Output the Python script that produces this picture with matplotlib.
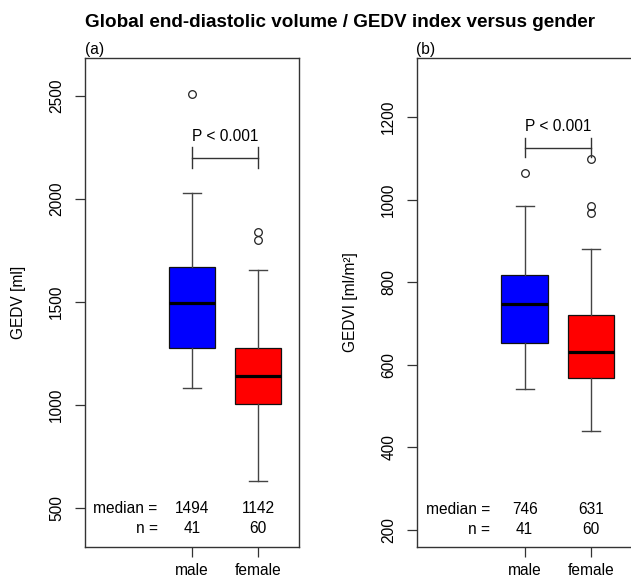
import matplotlib
matplotlib.use("Agg")
import matplotlib.pyplot as plt

plt.rcParams['font.family'] = ['Liberation Sans', 'DejaVu Sans']

W, H = 631, 582
DPI = 100

groups = ["male", "female"]
colors = ["#0000FF", "#FF0000"]

# Panel (a): GEDV [ml]
gedv_med = [1494, 1142]
gedv_q1 = [1279, 1007]
gedv_q3 = [1668, 1275]
gedv_lo = [1084, 630]
gedv_hi = [2031, 1655]
gedv_fliers = [[2508], [1840, 1800]]
gedv_n = [41, 60]
gedv_ticks = [500, 1000, 1500, 2000, 2500]

# Panel (b): GEDVI [ml/m²]
gedvi_med = [746, 631]
gedvi_q1 = [652, 568]
gedvi_q3 = [816, 721]
gedvi_lo = [542, 438]
gedvi_hi = [984, 881]
gedvi_fliers = [[1065], [1098, 984, 968]]
gedvi_n = [41, 60]
gedvi_ticks = [200, 400, 600, 800, 1000, 1200]

fig = plt.figure(figsize=(W / DPI, H / DPI), dpi=DPI)

def px_axes(left, right, top, bottom):
    return fig.add_axes([left / W, 1 - bottom / H, (right - left) / W, (bottom - top) / H])

axA = px_axes(85, 299, 58, 547)
axB = px_axes(417.3, 632, 58, 547)

LC = "#333333"
FS = 11.2

def draw(ax, med, q1, q3, lo, hi, fliers, n, ticks, ylim, ptext_y, pbar_y, ptick_h,
         row_med, row_n, ylabel, ylabel_x, tag, tag_x):
    stats = []
    for i in range(len(groups)):
        stats.append(dict(med=med[i], q1=q1[i], q3=q3[i], whislo=lo[i],
                          whishi=hi[i], fliers=fliers[i], label=groups[i]))
    bp = ax.bxp(stats, positions=[1, 2], widths=0.7, capwidths=0.27,
                patch_artist=True, manage_ticks=False,
                boxprops=dict(edgecolor="#111111", linewidth=0.9),
                medianprops=dict(color="black", linewidth=2.3, solid_capstyle="butt"),
                whiskerprops=dict(color="#444444", linewidth=1.0),
                capprops=dict(color="#444444", linewidth=1.0),
                flierprops=dict(marker="o", markerfacecolor="none",
                                markeredgecolor="#222222", markersize=5.5,
                                markeredgewidth=0.9))
    for patch, c in zip(bp["boxes"], colors):
        patch.set_facecolor(c)
    ax.set_xlim(-0.62, 2.62)
    ax.set_ylim(*ylim)
    ax.set_xticks([1, 2])
    ax.set_xticklabels(groups, fontsize=FS)
    ax.set_yticks(ticks)
    ax.set_yticklabels([str(t) for t in ticks], fontsize=FS, rotation=90, va="center")
    ax.tick_params(axis="both", length=7.2, width=0.9, color=LC)
    ax.tick_params(axis="y", pad=8)
    ax.tick_params(axis="x", pad=4.3)
    for s in ax.spines.values():
        s.set_color(LC)
        s.set_linewidth(1.0)
    # significance bracket
    ax.plot([1, 2], [pbar_y, pbar_y], color="#333333", lw=1.0)
    for x in (1, 2):
        ax.plot([x, x], [pbar_y - ptick_h, pbar_y + ptick_h], color="#333333", lw=1.0)
    ax.text(1.5, ptext_y, "P < 0.001", ha="center", va="center", fontsize=FS)
    # medians and n
    ax.text(0.48, row_med, "median =", ha="right", va="center", fontsize=FS)
    ax.text(0.48, row_n, "n =", ha="right", va="center", fontsize=FS)
    for i, x in enumerate([1, 2]):
        ax.text(x, row_med, str(med[i]), ha="center", va="center", fontsize=FS)
        ax.text(x, row_n, str(n[i]), ha="center", va="center", fontsize=FS)
    fig.text(ylabel_x / W, 1 - 302 / H, ylabel, rotation=90, ha="center",
             va="center", fontsize=FS)
    fig.text(tag_x / W, 1 - 54 / H, tag, ha="left", va="baseline", fontsize=FS)

draw(axA, gedv_med, gedv_q1, gedv_q3, gedv_lo, gedv_hi, gedv_fliers, gedv_n,
     gedv_ticks, (312, 2684), 2303, 2200, 50, 500, 400, "GEDV [ml]", 19, "(a)", 85)
draw(axB, gedvi_med, gedvi_q1, gedvi_q3, gedvi_lo, gedvi_hi, gedvi_fliers, gedvi_n,
     gedvi_ticks, (158, 1343), 1177, 1126, 22, 250, 200, "GEDVI [ml/m²]", 351, "(b)", 416)

fig.text(340 / W, 1 - 27 / H, "Global end-diastolic volume / GEDV index versus gender",
         ha="center", va="baseline", fontsize=13.6, fontweight="bold")

fig.savefig("out.png", dpi=DPI)
